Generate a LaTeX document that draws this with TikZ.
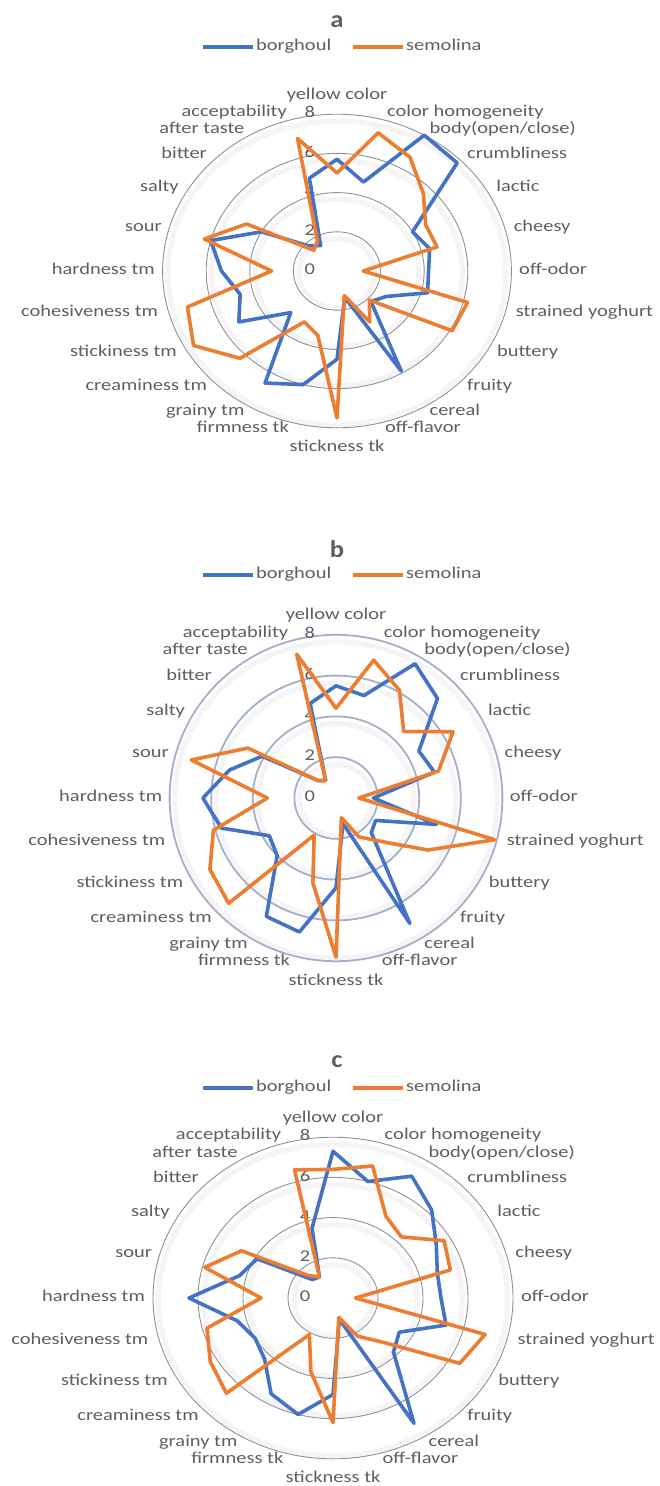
\documentclass[tikz,border=0pt]{standalone}
\usepackage{fontspec}
\setmainfont{Carlito}
\usepackage{graphicx}
\definecolor{ser1}{HTML}{4472C4}
\definecolor{ser2}{HTML}{ED7D31}
\definecolor{txt}{HTML}{5F5F5F}
\definecolor{ringc}{HTML}{8C919B}
\definecolor{ringb}{HTML}{A3AFCB}
\newcommand\wide[1]{\scalebox{1.24}[1]{#1}}
\newcommand\widet[1]{\scalebox{1.11}[1]{#1}}
\tikzset{
  lbl/.style={text=txt, font=\fontsize{16.5}{18}\selectfont, inner sep=0pt, text height=11pt, text depth=3.5pt},
  ttl/.style={text=txt, font=\fontsize{24}{26}\selectfont\bfseries, inner sep=0pt},
  s1/.style={draw=ser1, line width=3.6pt, line join=round},
  s2/.style={draw=ser2, line width=3.6pt, line join=round},
  legline1/.style={draw=ser1, line width=3.6pt},
  legline2/.style={draw=ser2, line width=3.6pt},
  ringA/.style={draw=ringc, line width=0.9pt},
  ringB/.style={draw=ringb, line width=1.8pt},
  ringshade/.style={draw=black!4, line width=5pt},
}
% rings: sx, sy, style
\newcommand\rings[3]{%
  \foreach \r in {2,4,6,8} {
    \draw[ringshade] (0,-0.1) ellipse [x radius={(\r-0.25)*#1pt}, y radius={(\r-0.25)*#2pt}];
    \draw[#3] (0,0) ellipse [x radius={\r*#1pt}, y radius={\r*#2pt}];
  }}
% polygon: style, first value, other 23 values
\newcommand\poly[3]{\draw[#1] (90:#2) \foreach \v [count=\i] in {#3} { -- ({90-15*\i}:\v) } -- cycle;}
\newcommand\vlabels[1]{%
  \foreach \v in {0,2,4,6,8} \node[lbl,anchor=east] (#1-v\v) at (-1.0,\v) {\wide{\v}};}
\newcommand\radarlabels[1]{%
  \node[lbl] (#1-l0) at (0,8.93) {\wide{yellow color}};
  \node[lbl,anchor=west] (#1-l1) at (2.29,8.06) {\wide{color homogeneity}};
  \node[lbl,anchor=west] (#1-l2) at (4.24,7.2) {\wide{body(open/close)}};
  \node[lbl,anchor=west] (#1-l3) at (5.96,5.92) {\wide{crumbliness}};
  \node[lbl,anchor=west] (#1-l4) at (7.3,4.23) {\wide{lactic}};
  \node[lbl,anchor=west] (#1-l5) at (8.1,2.19) {\wide{cheesy}};
  \node[lbl,anchor=west] (#1-l6) at (8.35,0) {\wide{off-odor}};
  \node[lbl,anchor=west] (#1-l7) at (8.2,-2.14) {\wide{strained yoghurt}};
  \node[lbl,anchor=west] (#1-l8) at (7.34,-4.18) {\wide{buttery}};
  \node[lbl,anchor=west] (#1-l9) at (5.96,-5.92) {\wide{fruity}};
  \node[lbl,anchor=west] (#1-l10) at (4.24,-7.2) {\wide{cereal}};
  \node[lbl,anchor=west] (#1-l11) at (2.2,-8.03) {\wide{off-flavor}};
  \node[lbl] (#1-l12) at (0,-9.0) {\wide{stickness tk}};
  \node[lbl,anchor=east] (#1-l13) at (-2.2,-8.03) {\wide{firmness tk}};
  \node[lbl,anchor=east] (#1-l14) at (-4.24,-7.2) {\wide{grainy tm}};
  \node[lbl,anchor=east] (#1-l15) at (-5.96,-5.92) {\wide{creaminess tm}};
  \node[lbl,anchor=east] (#1-l16) at (-7.34,-4.18) {\wide{stickiness tm}};
  \node[lbl,anchor=east] (#1-l17) at (-8.2,-2.14) {\wide{cohesiveness tm}};
  \node[lbl,anchor=east] (#1-l18) at (-8.35,0) {\wide{hardness tm}};
  \node[lbl,anchor=east] (#1-l19) at (-8.03,2.19) {\wide{sour}};
  \node[lbl,anchor=east] (#1-l20) at (-7.25,4.23) {\wide{salty}};
  \node[lbl,anchor=east] (#1-l21) at (-5.96,5.92) {\wide{bitter}};
  \node[lbl,anchor=east] (#1-l22) at (-4.24,7.2) {\wide{after taste}};
  \node[lbl,anchor=east] (#1-l23) at (-2.29,8.06) {\wide{acceptability}};}
% title + legend: prefix, title, title y, legend y
\newcommand\header[4]{%
  \node[ttl] (#1-title) at (337,#3) {\widet{#2}};
  \coordinate (#1-b1) at (203,#4); \coordinate (#1-b2) at (253,#4);
  \coordinate (#1-o1) at (353,#4); \coordinate (#1-o2) at (403,#4);
  \draw[legline1] (#1-b1) -- (#1-b2);
  \draw[legline2] (#1-o1) -- (#1-o2);
  \node[lbl,anchor=west] (#1-bt) at (256,#4) {\wide{borghoul}};
  \node[lbl,anchor=west] (#1-ot) at (406,#4) {\wide{semolina}};}
\begin{document}
\begin{tikzpicture}[x=1pt,y=-1pt]
\useasboundingbox[fill=white] (0,0) rectangle (659,1486);
% ---------- chart a ----------
\header{a}{a}{22}{47}
\begin{scope}[shift={(337,271)}, x=21.8pt, y=19.6pt]
  \rings{21.8}{19.6}{ringA}
  \vlabels{a}
  \poly{s1}{5.7}{4.7,8.0,7.8,4.0,4.4,4.2,4.3,2.6,2.2,5.9,1.4,4.5,6.0,6.6,3.0,5.2,4.6,5.3,6.0,4.0,1.8,1.5,4.9}
  \poly{s2}{5.0}{7.3,6.7,5.6,4.7,4.75,1.2,6.2,6.1,2.1,3.0,1.3,7.5,3.4,3.0,6.3,7.6,7.1,3.0,6.3,4.8,1.5,1.8,7.0}
  \radarlabels{a}
\end{scope}
% ---------- chart b ----------
\header{b}{b}{549}{575}
\begin{scope}[shift={(336,798)}, x=20.8pt, y=20.4pt]
  \rings{20.8}{20.4}{ringB}
  \vlabels{b}
  \poly{s1}{5.5}{5.2,7.6,6.9,4.6,4.9,1.8,5.0,2.2,2.4,7.1,1.3,4.4,6.8,6.7,4.0,3.7,5.7,6.4,5.3,4.1,1.2,1.0,4.8}
  \poly{s2}{4.4}{7.0,6.1,4.6,6.5,5.1,1.1,7.9,5.1,3.0,2.2,1.0,7.8,4.3,2.1,7.3,7.0,6.1,3.3,7.2,4.9,1.2,1.0,7.3}
  \radarlabels{b}
\end{scope}
% ---------- chart c ----------
\header{c}{c}{1062}{1088}
\begin{scope}[shift={(333,1298)}, x=22.5pt, y=20.1pt]
  \rings{22.5}{20.1}{ringA}
  \vlabels{c}
  \poly{s1}{7.3}{6.0,7.0,6.2,5.3,4.8,4.8,5.2,3.4,3.8,7.2,1.1,4.8,6.0,5.5,4.3,4.0,4.4,6.4,4.3,3.9,1.3,1.2,3.6}
  \poly{s2}{6.4}{6.8,4.7,4.3,5.7,5.4,1.0,7.0,6.5,3.1,2.2,1.0,6.2,3.8,2.1,6.7,6.3,5.8,3.2,5.9,4.7,1.6,1.2,6.6}
  \radarlabels{c}
\end{scope}
\end{tikzpicture}
\end{document}
